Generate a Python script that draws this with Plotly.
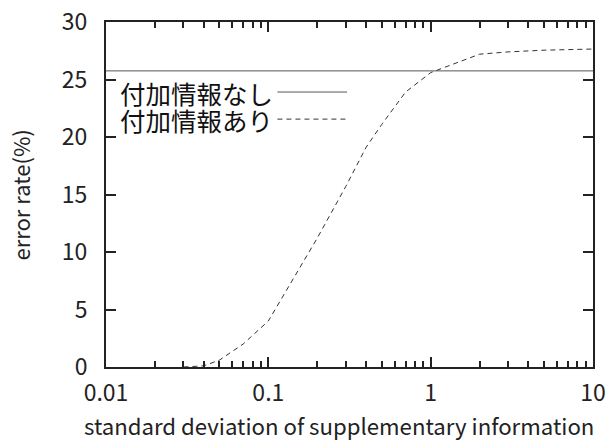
import plotly.graph_objects as go

# ---- data ----
sigma = [0.03, 0.04, 0.05, 0.07, 0.1, 0.2, 0.3, 0.4, 0.5, 0.7, 1, 2, 3, 5, 10]
err_with = [0.0, 0.1, 0.6, 2.0, 4.0, 11.2, 15.7, 19.1, 21.1, 23.9, 25.6, 27.2, 27.4, 27.55, 27.65]
baseline_x = [0.01, 10]
err_without = [25.75, 25.75]
name_without = "付加情報なし"
name_with = "付加情報あり"
x_ticks = [0.01, 0.1, 1, 10]
x_ticktext = ["0.01", "0.1", "1", "10"]
x_minor = [m * d for d in (0.01, 0.1, 1) for m in range(2, 10)]
y_ticks = [0, 5, 10, 15, 20, 25, 30]
x_title = "standard deviation of supplementary information"
y_title = "error rate(%)"

FONT = "Noto Sans CJK JP"

fig = go.Figure()
fig.add_trace(go.Scatter(x=baseline_x, y=err_without, mode="lines", name=name_without,
                         line=dict(color="#555555", width=1), showlegend=False))
fig.add_trace(go.Scatter(x=sigma, y=err_with, mode="lines", name=name_with,
                         line=dict(color="#333333", width=1, dash="5px,4px"), showlegend=False))

# legend drawn manually (sample line to the right of the text)
rows = [(name_without, 0.797, "solid", "#555555"), (name_with, 0.7185, "5px,4px", "#333333")]
for txt, yy, dash, col in rows:
    fig.add_annotation(xref="paper", yref="paper", x=0.348, y=yy, text=txt, showarrow=False,
                       xanchor="right", yanchor="middle", font=dict(family=FONT, size=25.5, color="#111111"))
    fig.add_shape(type="line", xref="paper", yref="paper", x0=0.352, x1=0.495, y0=yy, y1=yy,
                  line=dict(color=col, width=1, dash=dash))

# axis titles as annotations (fixed placement)
fig.add_annotation(xref="paper", yref="paper", x=0.478, y=-0.169, text=x_title, showarrow=False,
                   xanchor="center", yanchor="middle", borderpad=0,
                   font=dict(family=FONT, size=22.2, color="#222222"))
fig.add_annotation(xref="paper", yref="paper", x=-0.1766, y=0.5, text=y_title, showarrow=False,
                   textangle=-90, xanchor="center", yanchor="middle",
                   font=dict(family=FONT, size=22, color="#222222"))

axis_common = dict(showline=True, linecolor="#222222", linewidth=2, mirror="ticks",
                   ticks="inside", tickcolor="#222222", tickwidth=2, showgrid=False, zeroline=False,
                   automargin=False, ticklabeloverflow="allow",
                   tickfont=dict(family=FONT, size=23, color="#222222"))

fig.update_xaxes(type="log", range=[-2, 1], tickvals=x_ticks, ticktext=x_ticktext, ticklen=10,
                 ticklabelstandoff=4,
                 minor=dict(tickvals=x_minor, ticks="inside", ticklen=6, tickwidth=1.5, tickcolor="#222222"),
                 **axis_common)
fig.update_yaxes(range=[0, 30], tickvals=y_ticks, ticklen=10, ticklabelstandoff=12,
                 **axis_common)

fig.update_layout(width=609, height=441, margin=dict(l=106, r=16, t=22, b=74),
                  paper_bgcolor="white", plot_bgcolor="white", showlegend=False)

# remove the default 8px page margin so the figure fills the window exactly
fig.write_html("out.html", config={"displayModeBar": False},
               post_script="document.body.style.margin='0px';")
